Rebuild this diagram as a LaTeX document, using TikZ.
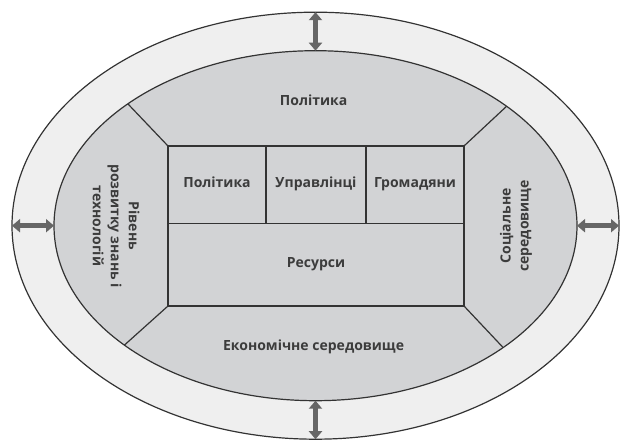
\documentclass[tikz,border=0pt]{standalone}
\usepackage{fontspec}
\setmainfont{Open Sans}
\usetikzlibrary{shapes.geometric,arrows.meta}
\definecolor{ringfill}{HTML}{EFEFEF}
\definecolor{corefill}{HTML}{D2D3D5}
\definecolor{linecol}{HTML}{333333}
\definecolor{txtcol}{HTML}{3C3C3C}
\definecolor{arrcol}{HTML}{666666}
\tikzset{
  ring/.style={ellipse, draw=linecol, line width=1.2pt, outer sep=0pt, inner sep=0pt},
  cell/.style={rectangle, draw=linecol, line width=1.2pt, fill=corefill, outer sep=0pt, inner sep=0pt, font=\bfseries\fontsize{14}{15}\selectfont, text=txtcol, text depth=5pt},
  lbl/.style={font=\bfseries\fontsize{14}{18}\selectfont, text=txtcol, align=center, inner sep=0pt},
  divider/.style={draw=linecol, line width=1.2pt},
  twoway/.style={draw=arrcol, line width=4.5pt, {Triangle[width=13pt,length=8pt]}-{Triangle[width=13pt,length=8pt]}}
}
\begin{document}
\begin{tikzpicture}[x=1pt,y=1pt]
\useasboundingbox (0,0) rectangle (622,440);
\node[ring, fill=ringfill, minimum width=607pt, minimum height=427pt] (outer) at (315.5,214.3) {};
\node[ring, fill=corefill, minimum width=523pt, minimum height=350pt] (inner) at (315.5,214.3) {};
% central cells
\node[cell, minimum width=98pt, minimum height=77.3pt] (pol) at (217,255.35) {Політика};
\node[cell, minimum width=100pt, minimum height=77.3pt] (upr) at (316,255.35) {Управлінці};
\node[cell, minimum width=98pt, minimum height=77.3pt] (hrom) at (415,255.35) {Громадяни};
\node[cell, minimum width=296pt, minimum height=82.7pt] (res) at (316,175.35) {Ресурси};
% diagonals
\draw[divider] (pol.north west) -- (inner.147.5);
\draw[divider] (hrom.north east) -- (inner.32.5);
\draw[divider] (res.south west) -- (inner.212.5);
\draw[divider] (res.south east) -- (inner.327.5);
% sector labels
\node[lbl] (ltop) at (313.6,339.3) {Політика};
\node[lbl] (lbot) at (313.6,92.7) {Економічне середовище};
\node[lbl, rotate=-90] (lleft) at (116,214) {Рівень\\розвитку знань і\\технологій};
\node[lbl, rotate=90] (lright) at (516,214) {Соціальне\\середовище};
% arrows
\draw[twoway] (outer.90) -- (inner.90);
\draw[twoway] (inner.270) -- (outer.270);
\draw[twoway] (outer.180) -- (inner.180);
\draw[twoway] (inner.0) -- (outer.0);
\end{tikzpicture}
\end{document}
